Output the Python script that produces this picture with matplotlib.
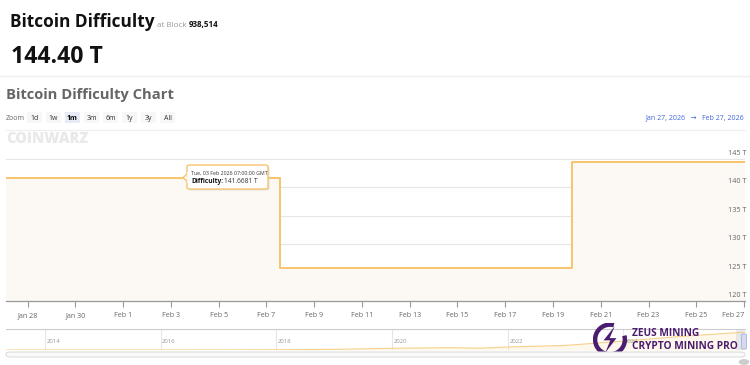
import matplotlib
matplotlib.use("Agg")
import matplotlib.pyplot as plt
from matplotlib.patches import FancyBboxPatch, Rectangle, Arc, Polygon
import pandas as pd

plt.rcParams['font.family'] = ['Open Sans', 'DejaVu Sans']

# --- data -------------------------------------------------------------
step_dates = pd.to_datetime(['2026-01-26 12:00', '2026-02-07 14:00',
                             '2026-02-19 18:45', '2026-02-28 00:00'])
step_values = [141.6681, 125.86, 144.40, 144.40]

x_ticks = pd.date_range('2026-01-28', '2026-02-27', freq='2D')
x_tick_labels = [d.strftime('%b %-d') for d in x_ticks]
y_ticks = [120, 125, 130, 135, 140, 145]
y_tick_labels = [f'{v} T' for v in y_ticks]

# navigator: long-run difficulty history (T)
nav_years = [2013.3, 2014.0, 2015.0, 2016.0, 2017.0, 2018.0, 2019.0, 2019.5,
             2020.0, 2021.0, 2021.5, 2022.0, 2023.0, 2024.0, 2025.0, 2025.5,
             2026.1]
nav_values = [0.01, 0.001, 0.04, 0.1, 0.3, 2.0, 5.6, 9.0, 14.0, 18.6, 14.5,
              24.0, 37.0, 72.0, 110.0, 126.0, 144.4]
nav_year_labels = [2014, 2016, 2018, 2020, 2022, 2024]

header_value = '144.40 T'
block = '938,514'
zoom_buttons = ['1d', '1w', '1m', '3m', '6m', '1y', '3y', 'All']

W, H = 750, 365
fig = plt.figure(figsize=(W / 100, H / 100), dpi=100)
fig.patch.set_facecolor('white')


def fx(x):
    return x / W


def fy(y):
    return 1 - y / H


# --- header -----------------------------------------------------------
fig.text(fx(10), fy(27), 'Bitcoin Difficulty', fontsize=12.4, fontweight='bold',
         color='#111111', va='baseline')
fig.text(fx(157), fy(27), 'at Block', fontsize=5.8, color='#9a9a9a', va='baseline')
fig.text(fx(189), fy(27), block, fontsize=5.8, fontweight='bold', color='#111111',
         va='baseline')
fig.text(fx(11), fy(63), header_value, fontsize=16.6, fontweight='bold',
         color='#111111', va='baseline')
fig.add_artist(plt.Line2D([0, 1], [fy(76), fy(76)], color='#eeeeee', lw=1))

fig.text(fx(6), fy(99), 'Bitcoin Difficulty Chart', fontsize=10.6, fontweight='bold',
         color='#666666', va='baseline')

# zoom row
fig.text(fx(6), fy(118), 'Zoom', fontsize=5, color='#666666', va='center')
for i, lab in enumerate(zoom_buttons):
    cx = 34.3 + i * 19.05
    sel = lab == '1m'
    fig.add_artist(FancyBboxPatch((fx(cx - 7.5), fy(123)), fx(15), 11 / H,
                                  boxstyle='round,pad=0,rounding_size=0.002',
                                  transform=fig.transFigure,
                                  fc='#e6ebf5' if sel else '#f7f7f7', ec='none'))
    fig.text(fx(cx), fy(118), lab, fontsize=5, ha='center', va='center',
             color='#000000' if sel else '#333333',
             fontweight='bold' if sel else 'normal')

fig.text(fx(744), fy(118), 'Jan 27, 2026   \u2192   Feb 27, 2026', fontsize=5,
         ha='right', va='center', color='#3f66d9')
fig.add_artist(plt.Line2D([fx(6), fx(745)], [fy(130), fy(130)], color='#f0f0f0', lw=1))
fig.text(fx(6), fy(139), 'COINWARZ', fontsize=10.5, fontweight='heavy',
         color='#e9e9e9', va='center')

# --- main chart -------------------------------------------------------
ax = fig.add_axes([fx(6), fy(301.3), fx(739), (301.3 - 150) / H])
ax.set_facecolor('none')
line_color = '#f6c46a'
ax.fill_between(step_dates, step_values, 120, step='post', color='#fcf8f3',
                zorder=2, lw=0)
ax.step(step_dates, step_values, where='post', color=line_color, lw=1.4, zorder=3)

ax.set_xlim(pd.Timestamp('2026-01-27 02:10'), pd.Timestamp('2026-02-27 01:00'))
ax.set_ylim(120, 120 + (301.3 - 150) / 5.7)
ax.set_yticks(y_ticks)
ax.yaxis.grid(True, color='#e6e6e6', lw=0.8, zorder=1)
ax.set_axisbelow(True)
ax.tick_params(axis='y', length=0, labelleft=False, labelright=False)
for v, lab in zip(y_ticks, y_tick_labels):
    ax.text(1.0015, v + 0.35, lab, transform=ax.get_yaxis_transform(),
            ha='right', va='bottom', fontsize=5.2, color='#666666', zorder=5)

ax.set_xticks(x_ticks)
ax.set_xticklabels(x_tick_labels)
ax.tick_params(axis='x', length=4, width=0.8, color='#999999', labelsize=5.1,
               labelcolor='#666666', pad=4)
ax.get_xticklabels()[-1].set_horizontalalignment('right')
for s in ['top', 'right', 'left']:
    ax.spines[s].set_visible(False)
ax.spines['bottom'].set_color('#999999')
ax.spines['bottom'].set_linewidth(0.9)

# tooltip
tip = FancyBboxPatch((fx(187), fy(189)), fx(81), 24 / H,
                     boxstyle='round,pad=0,rounding_size=0.004',
                     transform=fig.transFigure, fc='white', ec=line_color,
                     lw=1.0, zorder=10)
shadow = FancyBboxPatch((fx(188.5), fy(190.5)), fx(81), 24 / H,
                        boxstyle='round,pad=0,rounding_size=0.004',
                        transform=fig.transFigure, fc='#cccccc', ec='none',
                        alpha=0.5, zorder=9)
fig.add_artist(shadow)
fig.add_artist(tip)
fig.add_artist(Polygon([(fx(187.5), fy(173.5)), (fx(183), fy(177.7)),
                        (fx(187.5), fy(181.5))], closed=True,
                       transform=fig.transFigure, fc='white', ec=line_color,
                       lw=1.0, zorder=11))
fig.add_artist(plt.Line2D([fx(187.5), fx(187.5)], [fy(173), fy(182)],
                          color='white', lw=1.2, zorder=12))
fig.text(fx(191), fy(173), 'Tue, 03 Feb 2026 07:00:00 GMT', fontsize=3.8,
         color='#333333', va='center', zorder=13)
fig.text(fx(191), fy(181), 'Difficulty:', fontsize=4.8, fontweight='bold',
         color='#111111', va='center', zorder=13)
fig.text(fx(224), fy(181), '141.6681 T', fontsize=4.8, color='#333333',
         va='center', zorder=13)

# --- navigator --------------------------------------------------------
nav = fig.add_axes([fx(6), fy(350), fx(739), 21 / H])
nav.set_facecolor('none')
nav.fill_between(nav_years, nav_values, 0, color='#f6c46a', alpha=0.12, lw=0)
nav.plot(nav_years, nav_values, color='#f6c46a', lw=0.8, alpha=0.8)
nav.set_xlim(2013.33, 2026.1)
nav.set_ylim(0, 170)
nav.set_xticks([])
nav.set_yticks([])
for s in nav.spines.values():
    s.set_visible(False)
nav.spines['top'].set_visible(True)
nav.spines['top'].set_color('#cccccc')
nav.spines['top'].set_linewidth(0.8)
for yr in nav_year_labels:
    nav.axvline(yr, color='#e6e6e6', lw=0.8, zorder=0)
    nav.text(yr + 0.03, 0.3, str(yr), transform=nav.get_xaxis_transform(),
             fontsize=4.3, color='#999999', va='bottom')
nav.add_patch(Rectangle((2025.95, 0), 0.15, 1, transform=nav.get_xaxis_transform(),
                        fc='#6685c2', alpha=0.15, lw=0))
fig.add_artist(FancyBboxPatch((fx(741.5), fy(349)), fx(5), 15 / H,
                              boxstyle='round,pad=0,rounding_size=0.002',
                              transform=fig.transFigure, fc='#d5daf2',
                              ec='#aab2dd', lw=0.6))
# scrollbar
fig.add_artist(FancyBboxPatch((fx(6), fy(357)), fx(739), 5 / H,
                              boxstyle='round,pad=0,rounding_size=0.006',
                              transform=fig.transFigure, fc='#fafafa',
                              ec='#dddddd', lw=0.8))
fig.add_artist(plt.Circle((fx(744), fy(362)), 2.2 / H, transform=fig.transFigure,
                          color='#cccccc'))

# --- zeus mining badge ------------------------------------------------
purple = '#4b1d6f'
logo = fig.add_axes([fx(593), fy(356.5), fx(34), 34 / H])
logo.set_xlim(-1, 1)
logo.set_ylim(-1, 1)
logo.axis('off')
logo.add_patch(Arc((0, 0), 1.75, 1.75, theta1=75, theta2=15, lw=3.2, color=purple))
logo.add_patch(Polygon([(0.28, 0.78), (-0.38, -0.05), (0.02, -0.05),
                        (-0.28, -0.78), (0.38, 0.08), (-0.02, 0.08)],
                       closed=True, fc=purple, ec='none'))
fig.text(fx(632), fy(340), 'ZEUS MINING\nCRYPTO MINING PRO', fontsize=7.3,
         fontweight='bold', color=purple, va='center', linespacing=1.2)

fig.savefig('out.png', dpi=100)
